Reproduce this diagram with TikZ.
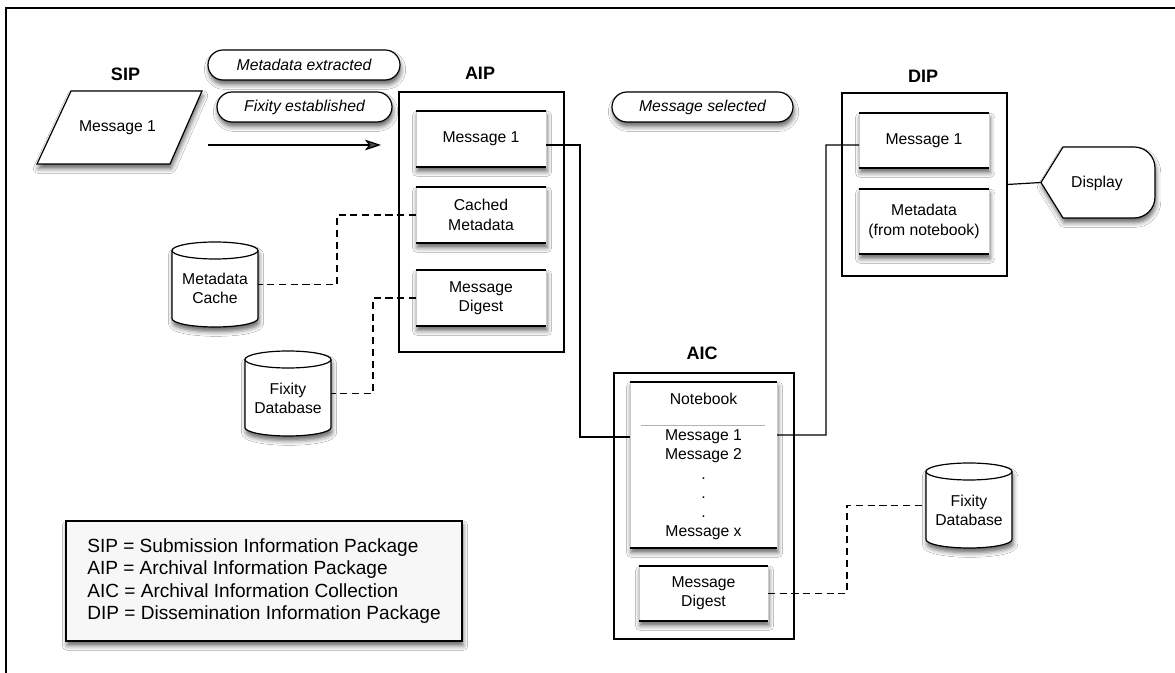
\documentclass[tikz,border=0pt]{standalone}
\usepackage{fontspec}
\setmainfont{Liberation Sans}
\usetikzlibrary{shapes.misc,shadows.blur,arrows.meta,calc}
\newcommand\pu{0.75pt}
\newcommand\dbcyl[3]{%
  \path[draw, line width=0.9pt, fill=white, shd]
    (#2-43,#3-34) -- (#2-43,#3+34)
    arc[start angle=180, end angle=360, x radius=43*\pu, y radius=8.5*\pu]
    -- (#2+43,#3-34)
    arc[start angle=0, end angle=180, x radius=43*\pu, y radius=8.5*\pu] -- cycle;
  \draw[line width=0.9pt] (#2-43,#3-34)
    arc[start angle=180, end angle=360, x radius=43*\pu, y radius=8.5*\pu];
  \node[minimum width=86*\pu, minimum height=85*\pu] (#1) at (#2,#3) {};
}
\begin{document}
\begin{tikzpicture}[x=0.75pt,y=-0.75pt,
  every node/.style={inner sep=0pt, outer sep=0pt, font=\fontsize{11.8}{14.5}\selectfont, text=black},
  shd/.style={blur shadow={shadow xshift=0.8pt, shadow yshift=-3.5pt, shadow blur radius=3.5pt, shadow opacity=60}},
  container/.style={draw, line width=0.9pt},
  inbox/.style={draw=gray!40, line width=0.5pt, fill=white, shd, align=center},
  pill/.style={rounded rectangle, draw, line width=0.9pt, fill=white, shd, minimum height=30*\pu, font=\fontsize{11.8}{14}\selectfont\itshape},
  ttl/.style={font=\fontsize{13.5}{16}\selectfont\bfseries},
  conn/.style={line width=0.9pt},
  dsh/.style={line width=0.9pt, dash pattern=on 5.3pt off 3.5pt},
]
\useasboundingbox (0,0) rectangle (1175,673);
\fill[white] (0,0) rectangle (1175,673);
\draw[line width=1pt] (1175,8) -- (6,8) -- (6,673);

% titles
\node[ttl] (sipl) at (125.5,74) {SIP};
\node[ttl] (aipl) at (480,73) {AIP};
\node[ttl] (aicl) at (702,353) {AIC};
\node[ttl] (dipl) at (923,76) {DIP};

% SIP
\draw[line width=0.9pt, fill=white, shd] (71,91) -- (202,91) -- (170,164) -- (37,164) -- cycle;
\node (sip) at (117.5,128) {Message 1};

% pills
\node[pill, minimum width=192*\pu] (mex) at (304,65) {Metadata extracted};
\node[pill, minimum width=175*\pu] (fix) at (304.5,107) {Fixity established};
\node[pill, minimum width=181*\pu] (msel) at (702.5,107) {Message selected};

% arrow
\coordinate (a1) at (208,145);
\coordinate (a2) at (381,145);
\draw[conn, -{Stealth[length=12pt,width=8pt,inset=3pt]}] (a1) -- (a2);

% AIP
\node[container, minimum width=165*\pu, minimum height=260*\pu] (aip) at (481.5,222) {};
\node[inbox, minimum width=130*\pu, minimum height=56*\pu] (aipm1) at (481,139) {Message 1};
\node[inbox, minimum width=130*\pu, minimum height=56*\pu] (aipcm) at (481,215) {Cached\\Metadata};
\node[inbox, minimum width=130*\pu, minimum height=56*\pu] (aipmd) at (481,298) {Message\\Digest};

% DIP
\node[container, minimum width=165*\pu, minimum height=183*\pu] (dip) at (924.5,184.5) {};
\node[inbox, minimum width=130*\pu, minimum height=55*\pu] (dipm1) at (924,140.5) {Message 1};
\node[inbox, minimum width=130*\pu, minimum height=65*\pu] (dipmeta) at (924,221.5) {Metadata\\(from notebook)};

% AIC
\node[container, minimum width=180*\pu, minimum height=266*\pu] (aic) at (704,506) {};
\node[inbox, minimum width=147*\pu, minimum height=166*\pu] (notebook) at (703.5,465) {};
\node (nbt) at (703.5,399) {Notebook};
\draw[gray!60, line width=0.6pt] (641,425) -- (765,425);
\node[align=center, font=\fontsize{11.8}{14.4}\selectfont] (msgs) at (703.5,485) {Message 1\\Message 2\\.\\.\\.\\Message x};
\node[inbox, minimum width=129*\pu, minimum height=55*\pu] (aicmd) at (703.5,593.5) {Message\\Digest};

\foreach \n in {aipm1,aipcm,aipmd,dipm1,dipmeta,notebook,aicmd}
  \draw[line width=0.9pt] (\n.north west) -- (\n.north east) (\n.south west) -- (\n.south east);

% cylinders
\dbcyl{mc}{215}{284.5}
\node[align=center] (mct) at (215,288.5) {Metadata\\Cache};
\dbcyl{fdbl}{288}{393.5}
\node[align=center] (fdblt) at (288,398.5) {Fixity\\Database};
\dbcyl{fdbr}{969}{505.5}
\node[align=center] (fdbrt) at (969,510.5) {Fixity\\Database};

% display
\draw[line width=0.9pt, fill=white, shd] (1041,182.5) -- (1063,147) -- (1134,147)
  arc[start angle=90,end angle=0,radius=21*\pu] -- (1155,197)
  arc[start angle=0,end angle=-90,radius=21*\pu] -- (1063,218) -- cycle;
\coordinate (disptip) at (1041,182.5);
\node (disp) at (1097,183) {Display};

% connectors
\draw[conn] ([yshift=-4.5pt]aipm1.east) -| (580,437) -- ([yshift=21pt]notebook.west);
\draw[conn] ([yshift=22.5pt]notebook.east) -| (826,145) -- ([yshift=-3.4pt]dipm1.west);
\draw[conn] (dip.east) -- (disptip);

\draw[dsh] (aipcm.west) -| ($(mc.east)+(79,0)$) -- (mc.east);
\draw[dsh] (aipmd.west) -| ($(fdbl.east)+(42,0)$) -- (fdbl.east);
\draw[dsh] (aicmd.east) -| ($(fdbr.west)+(-79,0)$) -- (fdbr.west);

% legend
\node[draw, line width=0.9pt, fill=gray!6, shd, minimum width=396*\pu, minimum height=120*\pu, align=left, font=\fontsize{14.3}{16.9}\selectfont] (legend) at (264,581) {SIP = Submission Information Package\\AIP = Archival Information Package\\AIC = Archival Information Collection\\DIP = Dissemination Information Package};
\end{tikzpicture}
\end{document}
